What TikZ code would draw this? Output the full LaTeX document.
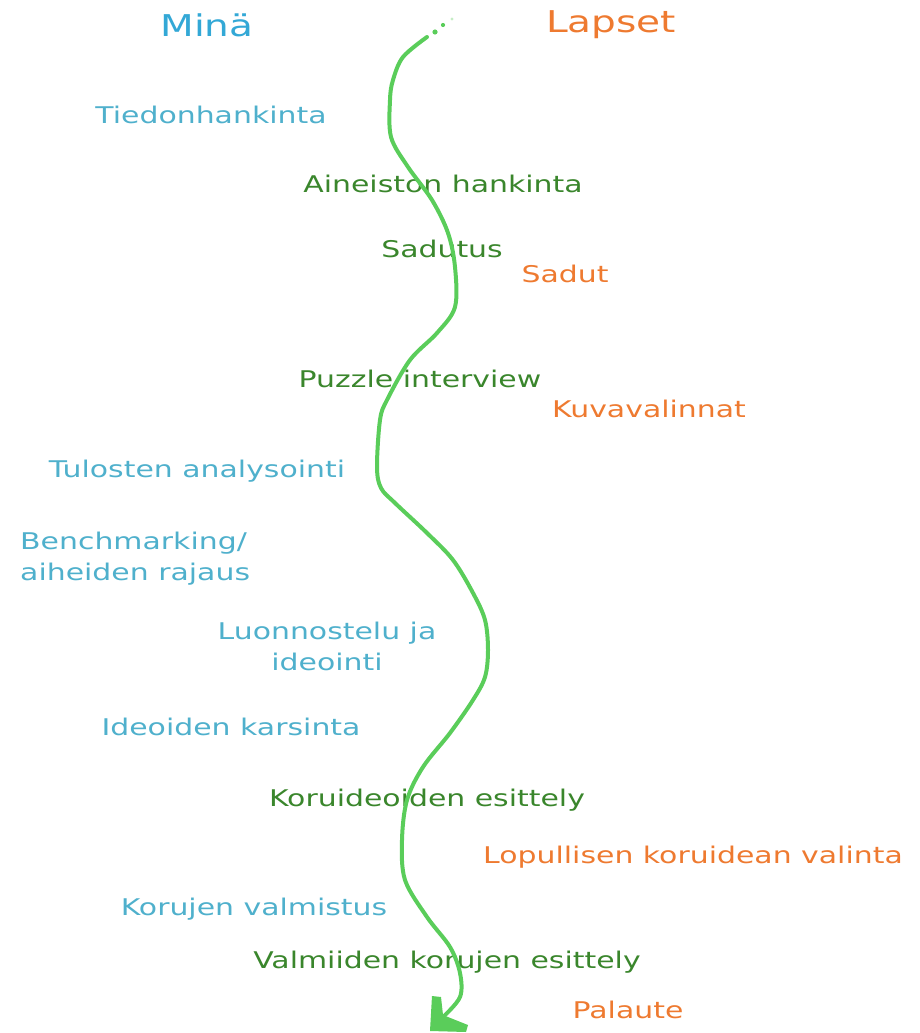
\documentclass[tikz,border=0pt]{standalone}
\usepackage{fontspec}
\newfontfamily\hand[FakeStretch=1.3]{DejaVu Sans}
\definecolor{meblue}{HTML}{33A8D6}
\definecolor{txtblue}{HTML}{4FB0CC}
\definecolor{txtgreen}{HTML}{3A862C}
\definecolor{txtorange}{HTML}{EE7A30}
\definecolor{pathgreen}{HTML}{5ACD5A}
\tikzset{
  lbl/.style={inner sep=0pt, font=\hand\fontsize{23}{31}\selectfont, anchor=base},
  head/.style={inner sep=0pt, font=\hand\fontsize{30}{34}\selectfont, anchor=base},
  me/.style={lbl, text=txtblue},
  kid/.style={lbl, text=txtorange},
  joint/.style={lbl, text=txtgreen},
  trail/.style={draw=pathgreen, line width=4pt, line cap=round, line join=round}
}
\begin{document}
\begin{tikzpicture}[x=1pt,y=-1pt]
\useasboundingbox (0,0) rectangle (919,1033);
% headings
\node[head, text=meblue] (mina) at (207,37) {Minä};
\node[head, text=txtorange] (lapset) at (611,33) {Lapset};
% labels
\node[me] (tied) at (211,123) {Tiedonhankinta};
\node[joint] (aine) at (443,192) {Aineiston hankinta};
\node[joint] (sadutus) at (442,257) {Sadutus};
\node[kid] (sadut) at (565,282) {Sadut};
\node[joint] (puzzle) at (420,387) {Puzzle interview};
\node[kid] (kuva) at (649,417) {Kuvavalinnat};
\node[me] (tulos) at (197,477) {Tulosten analysointi};
\node[me, anchor=base west, align=left] (bench) at (20,580) {Benchmarking/\\aiheiden rajaus};
\node[me, align=center] (luon) at (327,670) {Luonnostelu ja\\ideointi};
\node[me] (kars) at (231,735) {Ideoiden karsinta};
\node[joint] (esit) at (427,806) {Koruideoiden esittely};
\node[kid] (lopu) at (693,863) {Lopullisen koruidean valinta};
\node[me] (valm) at (254,915) {Korujen valmistus};
\node[joint] (valmesit) at (447,968) {Valmiiden korujen esittely};
\node[kid] (pal) at (628,1018) {Palaute};
% the green path
\coordinate (pstart) at (427,37);
\coordinate (pend) at (440,1020);
\fill[pathgreen] (435,32) circle (2.6);
\fill[pathgreen] (443,25) circle (2.1);
\fill[pathgreen!35] (452,19) circle (1.7);
\draw[trail] plot[smooth, tension=0.55] coordinates {
 (427,37) (403,57) (393,80) (390,100) (391,137) (408,167) (432,200) (448,233)
 (455,267) (455,307) (437,333) (410,360) (387,400) (380,420) (377,467) (381,488)
 (395,503) (427,533) (453,560) (473,593) (485,620) (488,650) (485,677) (473,700)
 (450,733) (423,767) (407,800) (402,840) (405,880) (427,917) (450,947) (460,973)
 (460,997) (443,1017)};
\fill[pathgreen] (430,1031) -- (432,996) -- (441,997) -- (443,1015) -- (468,1025) -- (466,1032) -- cycle;
\end{tikzpicture}
\end{document}
